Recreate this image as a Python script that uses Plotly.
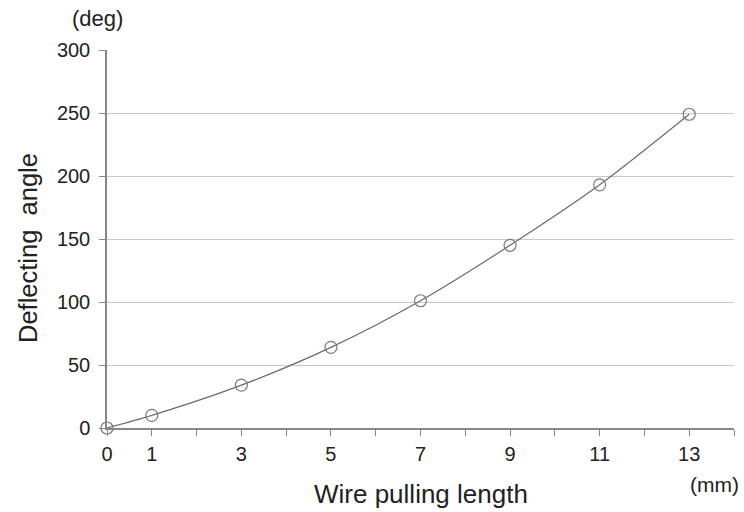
import plotly.graph_objects as go

length_mm = [0, 1, 3, 5, 7, 9, 11, 13]
angle_deg = [0, 10, 34, 64, 101, 145, 193, 249]
x_tick_vals = list(range(0, 15))
x_tick_text = ["0", "1", "", "3", "", "5", "", "7", "", "9", "", "11", "", "13", ""]
y_tick_vals = [0, 50, 100, 150, 200, 250, 300]

fig = go.Figure()
fig.add_trace(go.Scatter(
    x=length_mm, y=angle_deg, mode="lines+markers",
    line=dict(color="#6a6a6a", width=1.2, shape="spline", smoothing=0.8),
    marker=dict(symbol="circle-open", size=12, color="#7a7a7a", line=dict(width=1.2)),
    cliponaxis=False, showlegend=False,
))

font = "Liberation Sans, Arial, sans-serif"
L, R, T, B = 107, 10, 50, 84
fig.update_layout(
    width=744, height=512,
    margin=dict(l=L, r=R, t=T, b=B),
    paper_bgcolor="white", plot_bgcolor="white",
    font=dict(family=font, color="#222222"),
    xaxis=dict(range=[0, 14], tickvals=x_tick_vals, ticktext=x_tick_text,
               showgrid=False, zeroline=False, showline=True, linecolor="#888888", linewidth=1.5,
               ticks="outside", ticklen=6, tickcolor="#888888", tickwidth=1.3,
               ticklabelstandoff=1,
               tickfont=dict(size=20, color="#222222")),
    yaxis=dict(range=[0, 300], tickvals=y_tick_vals,
               showgrid=True, gridcolor="#c8c8c8", gridwidth=1.2,
               zeroline=False, showline=True, linecolor="#888888", linewidth=1.5,
               ticks="outside", ticklen=6, tickcolor="#888888", tickwidth=1.3,
               ticklabelstandoff=5,
               tickfont=dict(size=20, color="#222222")),
)

pw, ph = 744 - L - R, 512 - T - B
def px_annot(text, px, py, size, angle=0):
    fig.add_annotation(text=text, xref="paper", yref="paper",
                       x=(px - L) / pw, y=(512 - B - py) / ph,
                       showarrow=False, textangle=angle,
                       font=dict(size=size, color="#222222"),
                       xanchor="center", yanchor="middle")

px_annot("Deflecting  angle", 28, 248, 25.5, -90)
px_annot("Wire pulling length", 421, 494, 26)
px_annot("(deg)", 97, 18, 22)
px_annot("(mm)", 714, 485, 21)

fig.write_html("out.html")
